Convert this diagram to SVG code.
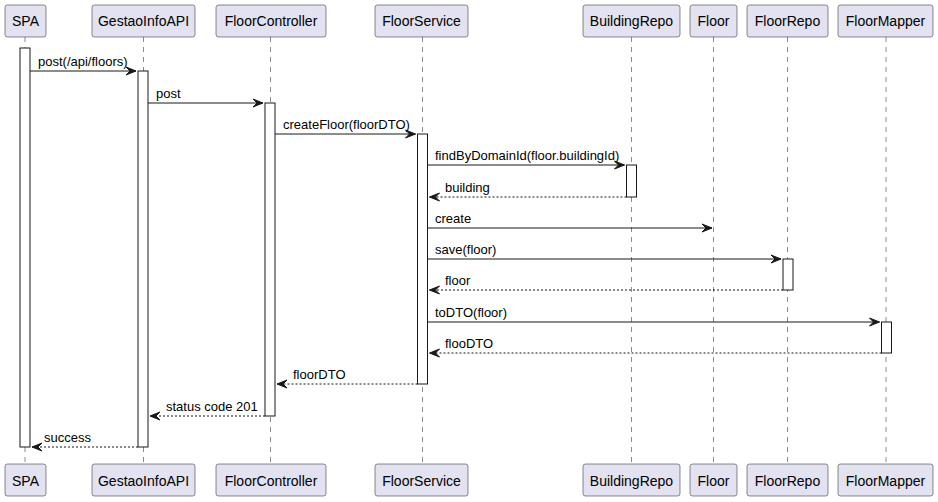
<svg xmlns="http://www.w3.org/2000/svg" width="938" height="502" viewBox="0 0 938 502">
<style>
.pbox{fill:#E2E2F0;stroke:#181818;stroke-width:0.5}
.ptxt{font-family:"Liberation Sans",Arial,sans-serif;font-size:14px;fill:#000;text-anchor:middle}
.life{stroke:#181818;stroke-width:0.5;stroke-dasharray:5,5;fill:none}
.act{fill:#FFFFFF;stroke:#181818;stroke-width:1}
.msg{stroke:#181818;stroke-width:1;fill:none}
.ret{stroke:#181818;stroke-width:1;stroke-dasharray:2,2;fill:none}
.head{fill:#181818;stroke:#181818;stroke-width:1}
.mtxt{font-family:"Liberation Sans",Arial,sans-serif;font-size:13px;fill:#000}
</style>
<rect width="938" height="502" fill="#FFFFFF"/>
<g id="lifelines">
<line class="life" x1="25" y1="37" x2="25" y2="464"/>
<line class="life" x1="143.5" y1="37" x2="143.5" y2="464"/>
<line class="life" x1="270.5" y1="37" x2="270.5" y2="464"/>
<line class="life" x1="422.5" y1="37" x2="422.5" y2="464"/>
<line class="life" x1="631.5" y1="37" x2="631.5" y2="464"/>
<line class="life" x1="713.5" y1="37" x2="713.5" y2="464"/>
<line class="life" x1="787.5" y1="37" x2="787.5" y2="464"/>
<line class="life" x1="886" y1="37" x2="886" y2="464"/>
</g>
<g id="SPA">
<rect class="pbox" x="5" y="5" width="41" height="32" rx="2.5"/>
<text class="ptxt" x="25.5" y="26">SPA</text>
<rect class="pbox" x="5" y="464" width="41" height="32" rx="2.5"/>
<text class="ptxt" x="25.5" y="486">SPA</text>
<rect class="act" x="20" y="48" width="10" height="399"/>
</g>
<g id="GestaoInfoAPI">
<rect class="pbox" x="92" y="5" width="103" height="32" rx="2.5"/>
<text class="ptxt" x="143.5" y="26">GestaoInfoAPI</text>
<rect class="pbox" x="92" y="464" width="103" height="32" rx="2.5"/>
<text class="ptxt" x="143.5" y="486">GestaoInfoAPI</text>
<rect class="act" x="138" y="71" width="10" height="376"/>
</g>
<g id="FloorController">
<rect class="pbox" x="216" y="5" width="110" height="32" rx="2.5"/>
<text class="ptxt" x="271" y="26">FloorController</text>
<rect class="pbox" x="216" y="464" width="110" height="32" rx="2.5"/>
<text class="ptxt" x="271" y="486">FloorController</text>
<rect class="act" x="265" y="103" width="10" height="313"/>
</g>
<g id="FloorService">
<rect class="pbox" x="375" y="5" width="93" height="32" rx="2.5"/>
<text class="ptxt" x="421.5" y="26">FloorService</text>
<rect class="pbox" x="375" y="464" width="93" height="32" rx="2.5"/>
<text class="ptxt" x="421.5" y="486">FloorService</text>
<rect class="act" x="417.5" y="134" width="10" height="250"/>
</g>
<g id="BuildingRepo">
<rect class="pbox" x="583" y="5" width="97" height="32" rx="2.5"/>
<text class="ptxt" x="631.5" y="26">BuildingRepo</text>
<rect class="pbox" x="583" y="464" width="97" height="32" rx="2.5"/>
<text class="ptxt" x="631.5" y="486">BuildingRepo</text>
<rect class="act" x="626.5" y="165" width="10" height="32"/>
</g>
<g id="Floor">
<rect class="pbox" x="690" y="5" width="47" height="32" rx="2.5"/>
<text class="ptxt" x="713.5" y="26">Floor</text>
<rect class="pbox" x="690" y="464" width="47" height="32" rx="2.5"/>
<text class="ptxt" x="713.5" y="486">Floor</text>
</g>
<g id="FloorRepo">
<rect class="pbox" x="747" y="5" width="81" height="32" rx="2.5"/>
<text class="ptxt" x="787.5" y="26">FloorRepo</text>
<rect class="pbox" x="747" y="464" width="81" height="32" rx="2.5"/>
<text class="ptxt" x="787.5" y="486">FloorRepo</text>
<rect class="act" x="783" y="259" width="10" height="31"/>
</g>
<g id="FloorMapper">
<rect class="pbox" x="838" y="5" width="95" height="32" rx="2.5"/>
<text class="ptxt" x="885.5" y="26">FloorMapper</text>
<rect class="pbox" x="838" y="464" width="95" height="32" rx="2.5"/>
<text class="ptxt" x="885.5" y="486">FloorMapper</text>
<rect class="act" x="881.5" y="322" width="10" height="31"/>
</g>
<g id="connectors">
<line class="msg" x1="30" y1="71" x2="136" y2="71"/>
<polygon class="head" points="126,67 136,71 126,75 130,71"/>
<text class="mtxt" x="38" y="66">post(/api/floors)</text>

<line class="msg" x1="148" y1="103" x2="263" y2="103"/>
<polygon class="head" points="253,99 263,103 253,107 257,103"/>
<text class="mtxt" x="156" y="98">post</text>

<line class="msg" x1="275" y1="134" x2="415.5" y2="134"/>
<polygon class="head" points="405.5,130 415.5,134 405.5,138 409.5,134"/>
<text class="mtxt" x="283" y="129">createFloor(floorDTO)</text>

<line class="msg" x1="427.5" y1="165" x2="624.5" y2="165"/>
<polygon class="head" points="614.5,161 624.5,165 614.5,169 618.5,165"/>
<text class="mtxt" x="435" y="160">findByDomainId(floor.buildingId)</text>

<line class="ret" x1="626.5" y1="197" x2="429.5" y2="197"/>
<polygon class="head" points="439.5,193 429.5,197 439.5,201 435.5,197"/>
<text class="mtxt" x="445" y="192">building</text>

<line class="msg" x1="427.5" y1="228" x2="712" y2="228"/>
<polygon class="head" points="702,224 712,228 702,232 706,228"/>
<text class="mtxt" x="435" y="223">create</text>

<line class="msg" x1="427.5" y1="259" x2="781" y2="259"/>
<polygon class="head" points="771,255 781,259 771,263 775,259"/>
<text class="mtxt" x="435" y="254">save(floor)</text>

<line class="ret" x1="783" y1="290" x2="429.5" y2="290"/>
<polygon class="head" points="439.5,286 429.5,290 439.5,294 435.5,290"/>
<text class="mtxt" x="445" y="285">floor</text>

<line class="msg" x1="427.5" y1="322" x2="879.5" y2="322"/>
<polygon class="head" points="869.5,318 879.5,322 869.5,326 873.5,322"/>
<text class="mtxt" x="435" y="317">toDTO(floor)</text>

<line class="ret" x1="881.5" y1="353" x2="429.5" y2="353"/>
<polygon class="head" points="439.5,349 429.5,353 439.5,357 435.5,353"/>
<text class="mtxt" x="445" y="348">flooDTO</text>

<line class="ret" x1="417.5" y1="384" x2="277" y2="384"/>
<polygon class="head" points="287,380 277,384 287,388 283,384"/>
<text class="mtxt" x="293" y="379">floorDTO</text>

<line class="ret" x1="265" y1="416" x2="150" y2="416"/>
<polygon class="head" points="160,412 150,416 160,420 156,416"/>
<text class="mtxt" x="166" y="411">status code 201</text>

<line class="ret" x1="138" y1="447" x2="32" y2="447"/>
<polygon class="head" points="42,443 32,447 42,451 38,447"/>
<text class="mtxt" x="44" y="442">success</text>
</g>
</svg>
